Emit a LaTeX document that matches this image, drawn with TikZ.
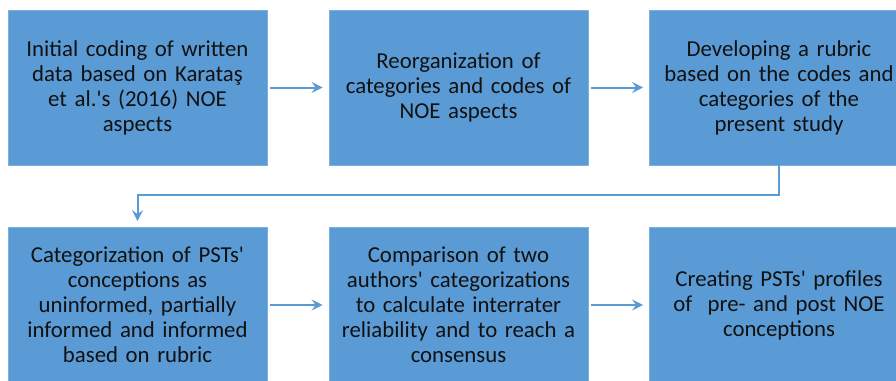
\documentclass[tikz,border=0pt]{standalone}
\usepackage{fontspec}
\setmainfont[Ligatures=TeXOff,WordSpace=0.85]{Carlito}
\usetikzlibrary{arrows.meta}
\definecolor{boxblue}{HTML}{5B9BD5}
\definecolor{edgeblue}{HTML}{7EB0DE}
\definecolor{txt}{HTML}{111111}
\tikzset{
  stepbox/.style={rectangle, fill=boxblue, draw=edgeblue, line width=0.8pt,
    minimum width=259pt, minimum height=155pt, inner sep=0pt,
    text width=255pt, align=center, text=txt,
    font=\fontsize{22.8pt}{25pt}\selectfont},
  flow/.style={draw=boxblue, line width=2pt,
    -{Stealth[length=11pt,width=11pt,inset=4pt]}}
}
\begin{document}
\begin{tikzpicture}[x=1pt,y=-1pt]
\useasboundingbox (0,0) rectangle (896,380);
\node[stepbox] (b1) at (137.5,87.5) {Initial coding of written\\data based on Karataş\\et al.'s (2016) NOE\\aspects};
\node[stepbox] (b2) at (458.5,87.5) {Reorganization of\\categories and codes of\\NOE aspects};
\node[stepbox] (b3) at (779,87.5) {Developing a rubric\\based on the codes and\\categories of the\\present study};
\node[stepbox] (b4) at (137.5,305) {Categorization of PSTs'\\conceptions as\\uninformed, partially\\informed and informed\\based on rubric};
\node[stepbox] (b5) at (458.5,305) {Comparison of two\\authors' categorizations\\to calculate interrater\\reliability and to reach a\\consensus};
\node[stepbox] (b6) at (779,305) {Creating PSTs' profiles\\of\ \ pre- and post NOE\\conceptions};
\draw[flow, shorten <=3pt, shorten >=6pt] (b1.east) -- (b2.west);
\draw[flow, shorten <=3pt, shorten >=6pt] (b2.east) -- (b3.west);
\draw[flow, shorten <=3pt, shorten >=6pt] (b4.east) -- (b5.west);
\draw[flow, shorten <=3pt, shorten >=6pt] (b5.east) -- (b6.west);
\coordinate (turn) at (779,195);
\draw[flow, shorten >=6pt] (b3.south) -- (turn) -| (b4.north);
\end{tikzpicture}
\end{document}
